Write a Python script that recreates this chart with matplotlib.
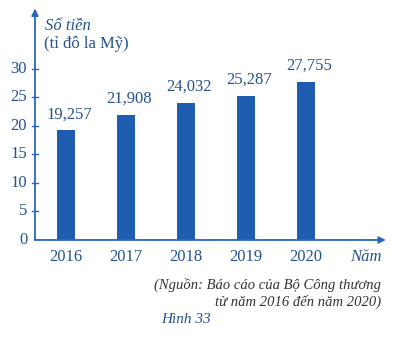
import matplotlib.pyplot as plt

# export value (billion USD) per year
years = ['2016', '2017', '2018', '2019', '2020']
values = [19.257, 21.908, 24.032, 25.287, 27.755]
labels = ['19,257', '21,908', '24,032', '25,287', '27,755']
yticks = [0, 5, 10, 15, 20, 25, 30]

bar_color = '#1f5db0'
axis_color = '#2a68c0'
text_color = '#24528f'

plt.rcParams['font.family'] = ['Liberation Serif', 'DejaVu Serif']

fig = plt.figure(figsize=(3.95, 3.37), dpi=100)
ax = fig.add_axes([0, 0, 1, 1])
ax.set_xlim(-1.1, 5.483)
ax.set_ylim(-17.02, 42.1)
ax.axis('off')

x = list(range(len(years)))
ax.bar(x, values, width=0.3, color=bar_color, zorder=2)

# axes drawn as arrows
x0 = -0.517
ax.annotate('', xy=(5.33, 0), xytext=(x0, 0),
            arrowprops=dict(arrowstyle='-|>', color=axis_color, lw=1.3,
                            mutation_scale=10, shrinkA=0, shrinkB=0))
ax.annotate('', xy=(x0, 40.6), xytext=(x0, 0),
            arrowprops=dict(arrowstyle='-|>', color=axis_color, lw=1.3,
                            mutation_scale=10, shrinkA=0, shrinkB=0))

for t in yticks:
    if t > 0:
        ax.plot([x0 - 0.05, x0 + 0.05], [t, t], color=axis_color, lw=1)
    ax.text(x0 - 0.13, t, str(t), ha='right', va='center', fontsize=12,
            color=text_color)

for xi, v, lab in zip(x, values, labels):
    ax.text(xi + 0.05, v + 2.8, lab, ha='center', va='center', fontsize=12,
            color=text_color)

for xi, yr in zip(x, years):
    ax.text(xi, -3.0, yr, ha='center', va='center', fontsize=12,
            color=text_color)

ax.text(5.0, -3.0, 'Năm', ha='center', va='center', fontsize=12,
        style='italic', color=text_color)
ax.text(x0 + 0.17, 37.6, 'Số tiền', ha='left', va='center', fontsize=12,
        style='italic', color=text_color)
ax.text(x0 + 0.15, 34.3, '(tỉ đô la Mỹ)', ha='left', va='center',
        fontsize=12, color=text_color)

ax.text(5.25, -7.9, '(Nguồn: Báo cáo của Bộ Công thương',
        ha='right', va='center', fontsize=10.5, style='italic', color='#333333')
ax.text(5.25, -10.9, 'từ năm 2016 đến năm 2020)',
        ha='right', va='center', fontsize=10.5, style='italic', color='#333333')
ax.text(2.0, -14.0, 'Hình 33', ha='center', va='center', fontsize=11,
        style='italic', color=text_color)

fig.savefig('out.png', dpi=100)
